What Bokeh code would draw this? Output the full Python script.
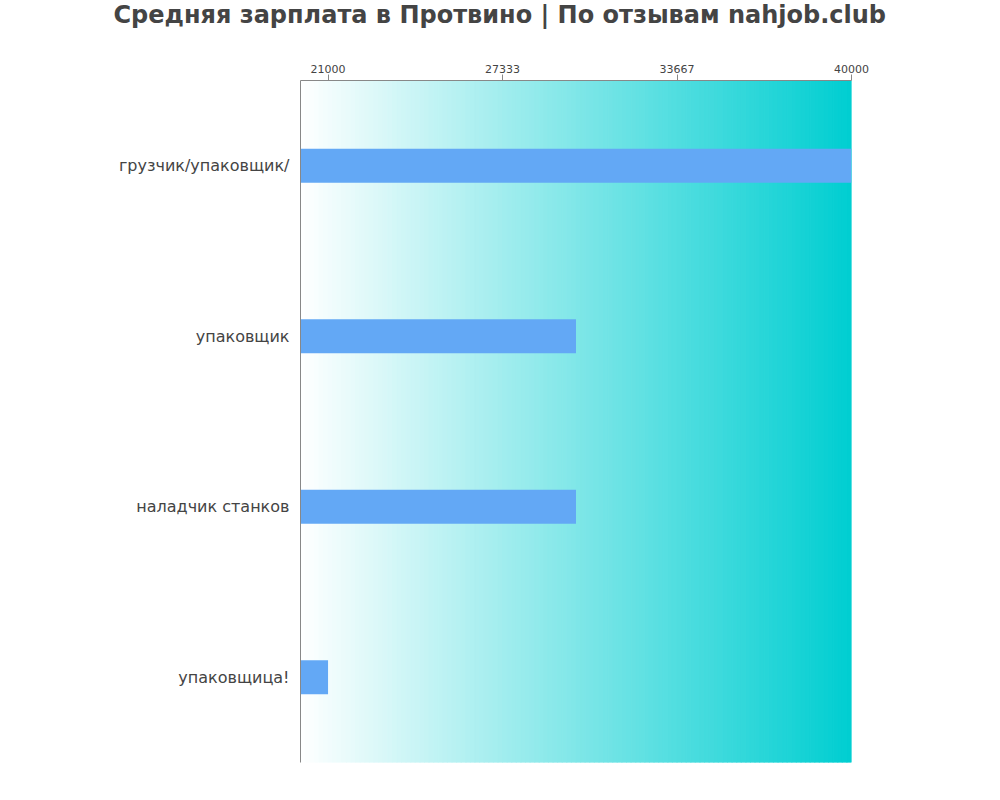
from bokeh.plotting import figure
from bokeh.layouts import column
from bokeh.models import FactorRange, FixedTicker, NumeralTickFormatter, LinearAxis
from bokeh.embed import file_html
from bokeh.resources import INLINE

categories = ["грузчик/упаковщик/", "упаковщик", "наладчик станков", "упаковщица!"]
salaries = [40000, 30000, 30000, 21000]
tick_values = [21000, 27333, 33667, 40000]
x_start, x_end = 20000, 40000
title_text = "Средняя зарплата в Протвино | По отзывам nahjob.club"

W = 1000
TH = 40          # title strip height
H = 800 - TH     # main chart height
BL, BR, BT, BB = 300, 149, 80 - TH, 38

# ---- title strip (a figure whose only content is its title) ----
t = figure(width=W, height=TH, output_backend="svg", toolbar_location=None,
           x_range=(0, 1), y_range=(0, 1), min_border_left=BL, min_border_right=BR,
           min_border_top=0, min_border_bottom=0,
           x_axis_location=None, y_axis_location=None)
t.xgrid.visible = False
t.ygrid.visible = False
t.outline_line_color = None
t.background_fill_color = "white"
t.border_fill_color = "white"
t.title.text = title_text
t.title.align = "left"
t.title.offset = -187
t.title.vertical_align = "top"
t.title.standoff = 0
t.title.text_font = "DejaVu Sans"
t.title.text_font_size = "24px"
t.title.text_font_style = "bold"
t.title.text_color = "#444444"

# ---- main chart ----
p = figure(width=W, height=H, output_backend="svg", toolbar_location=None,
           y_range=FactorRange(*reversed(categories)),
           x_range=(x_start, x_end), x_axis_location=None, y_axis_location="left",
           min_border_left=BL, min_border_right=BR, min_border_top=BT, min_border_bottom=BB)

# gradient background
n = 120
c0 = (255, 255, 255)
c1 = (0, 206, 209)
lefts, rights, cols = [], [], []
for i in range(n):
    f = (i + 0.5) / n
    r = round(c0[0] + (c1[0] - c0[0]) * f)
    g = round(c0[1] + (c1[1] - c0[1]) * f)
    b = round(c0[2] + (c1[2] - c0[2]) * f)
    lefts.append(x_start + (x_end - x_start) * i / n)
    rights.append(x_start + (x_end - x_start) * (i + 1) / n)
    cols.append("#%02x%02x%02x" % (r, g, b))
p.quad(left=lefts, right=rights, bottom=[0] * n, top=[len(categories)] * n,
       fill_color=cols, line_color=cols, line_width=1)

p.hbar(y=categories, right=salaries, left=x_start, height=0.2,
       fill_color="#63a8f5", line_color=None)

top_axis = LinearAxis(ticker=FixedTicker(ticks=tick_values),
                      formatter=NumeralTickFormatter(format="0"))
top_axis.axis_line_color = "#888888"
top_axis.major_tick_line_color = "#888888"
top_axis.major_tick_out = 6
top_axis.major_tick_in = 0
top_axis.minor_tick_line_color = None
top_axis.major_label_text_font = "DejaVu Sans"
top_axis.major_label_text_font_size = "11px"
top_axis.major_label_text_color = "#444444"
top_axis.major_label_standoff = 2
p.add_layout(top_axis, "above")

ya = p.yaxis[0]
ya.axis_line_color = "#888888"
ya.major_tick_line_color = None
ya.major_tick_out = 0
ya.major_tick_in = 0
ya.minor_tick_line_color = None
ya.major_label_text_font = "DejaVu Sans"
ya.major_label_text_font_size = "16px"
ya.major_label_text_color = "#444444"
ya.major_label_standoff = 11

p.xgrid.visible = False
p.ygrid.visible = False
p.outline_line_color = None
p.background_fill_color = "white"
p.border_fill_color = "white"

layout = column(t, p, spacing=0)
open("out.html", "w").write(file_html(layout, INLINE))
